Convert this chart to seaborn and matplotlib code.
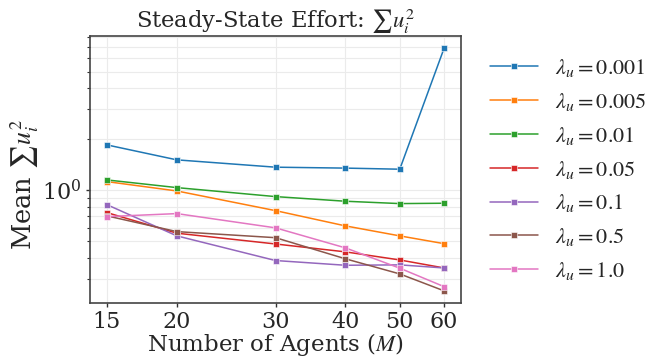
import numpy as np
import pandas as pd
import matplotlib
matplotlib.use("Agg")
import matplotlib.pyplot as plt
import matplotlib.ticker as mticker
import seaborn as sns

# Number of agents and steady-state effort for each control weight lambda_u
agents = [15, 20, 30, 40, 50, 60]
lambda_labels = ["0.001", "0.005", "0.01", "0.05", "0.1", "0.5", "1.0"]
effort_0001 = [1.85, 1.51, 1.367, 1.35, 1.33, 6.88]
effort_0005 = [1.124, 0.99, 0.758, 0.616, 0.538, 0.484]
effort_001 = [1.15, 1.036, 0.917, 0.861, 0.834, 0.838]
effort_005 = [0.738, 0.558, 0.482, 0.433, 0.388, 0.348]
effort_01 = [0.822, 0.538, 0.385, 0.361, 0.363, 0.348]
effort_05 = [0.706, 0.570, 0.525, 0.394, 0.321, 0.255]
effort_10 = [0.699, 0.728, 0.600, 0.457, 0.347, 0.270]

series = [effort_0001, effort_0005, effort_001, effort_005, effort_01, effort_05, effort_10]

rows = []
for lab, vals in zip(lambda_labels, series):
    for m, v in zip(agents, vals):
        rows.append({"M": m, "effort": v, "lam": rf"$\lambda_u = {lab}$"})
df = pd.DataFrame(rows)

sns.set_theme(style="ticks")
plt.rcParams["font.family"] = ["DejaVu Serif"]
plt.rcParams["mathtext.fontset"] = "stix"
plt.rcParams["font.size"] = 14

fig = plt.figure(figsize=(6.49, 3.58), dpi=100)
ax = fig.add_axes([0.1387, 0.1536, 0.7103 - 0.1387, 0.8994 - 0.1536])

sns.lineplot(data=df, x="M", y="effort", hue="lam", marker="s", markersize=4.6,
             linewidth=1.1, palette="tab10", markeredgewidth=0.4, ax=ax)

ax.set_xscale("log")
ax.set_yscale("log")
ax.set_xticks(agents)
ax.xaxis.set_major_formatter(mticker.FixedFormatter([str(a) for a in agents]))
ax.xaxis.set_minor_locator(mticker.NullLocator())
ax.yaxis.set_minor_formatter(mticker.NullFormatter())

ax.grid(True, which="both", color="#ebebeb", linewidth=0.8)
ax.set_axisbelow(True)
for s in ax.spines.values():
    s.set_visible(True)
    s.set_color("#444444")
    s.set_linewidth(1.2)
ax.tick_params(axis="both", which="major", labelsize=16, length=3, width=1,
               color="#333333", pad=3)
ax.tick_params(axis="y", which="minor", length=2, width=0.8, color="#333333")

ax.set_title(r"Steady-State Effort: $\sum u_i^2$", fontsize=16.3, pad=3)
ax.set_xlabel(r"Number of Agents ($M$)", fontsize=16.5, labelpad=-1.5)
ax.set_ylabel(r"Mean $\sum u_i^2$", fontsize=18.5, labelpad=1)
ax.yaxis.label.set_y(0.445)

ax.legend(loc="center left", bbox_to_anchor=(1.025, 0.5), frameon=False,
          fontsize=16, handlelength=2.16, handletextpad=0.77, labelspacing=0.53,
          title=None)

fig.savefig("out.png", dpi=100)
